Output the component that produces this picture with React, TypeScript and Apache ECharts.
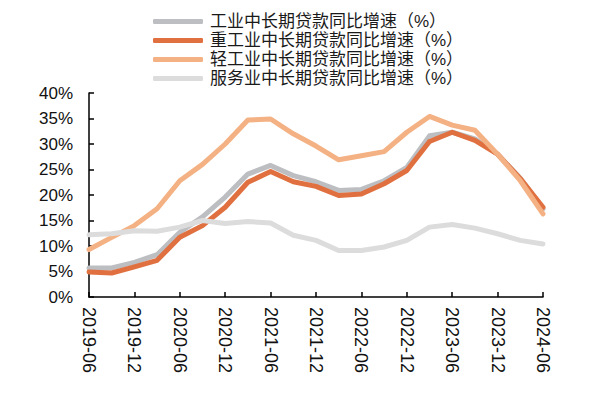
import React, { useEffect, useRef } from "react";
import * as echarts from "echarts";

const categories = [
  "2019-06", "2019-09", "2019-12", "2020-03", "2020-06", "2020-09", "2020-12",
  "2021-03", "2021-06", "2021-09", "2021-12", "2022-03", "2022-06", "2022-09",
  "2022-12", "2023-03", "2023-06", "2023-09", "2023-12", "2024-03", "2024-06",
];

const industry = [5.7, 5.7, 6.8, 8.3, 12.7, 15.7, 19.6, 24.1, 25.8, 23.8, 22.6, 20.9, 21.1, 22.8, 25.4, 31.6, 32.3, 31.0, 28.0, 23.3, 17.3];
const heavy = [4.9, 4.7, 5.9, 7.2, 11.7, 14.0, 17.6, 22.5, 24.6, 22.6, 21.7, 19.9, 20.2, 22.2, 24.8, 30.5, 32.3, 30.7, 28.0, 23.2, 17.6];
const light = [9.3, 11.7, 14.0, 17.3, 22.8, 26.0, 30.0, 34.7, 34.9, 32.0, 29.6, 26.9, 27.7, 28.5, 32.3, 35.4, 33.7, 32.7, 28.0, 22.8, 16.3];
const service = [12.2, 12.4, 13.0, 12.9, 13.7, 15.0, 14.4, 14.8, 14.5, 12.1, 11.1, 9.1, 9.1, 9.8, 11.1, 13.7, 14.2, 13.5, 12.4, 11.1, 10.4];

const names = [
  "工业中长期贷款同比增速（%）",
  "重工业中长期贷款同比增速（%）",
  "轻工业中长期贷款同比增速（%）",
  "服务业中长期贷款同比增速（%）",
];
const colors = ["#BCBEC1", "#E0703F", "#F4B183", "#DCDCDC"];

export default function App() {
  const ref = useRef<HTMLDivElement>(null);
  useEffect(() => {
    if (!ref.current) return;
    const chart = echarts.init(ref.current, undefined, { renderer: "svg" });
    const datasets = [industry, heavy, light, service];
    const order = [3, 0, 1, 2];
    chart.setOption({
      animation: false,
      textStyle: { fontFamily: "'Liberation Sans', 'Noto Sans CJK SC', sans-serif" },
      legend: {
        orient: "vertical",
        left: 148,
        top: 8,
        icon: "roundRect",
        itemWidth: 50,
        itemHeight: 5,
        itemGap: 2,
        data: names,
        textStyle: {
          fontSize: 17,
          lineHeight: 17,
          color: "#1a1a1a",
          padding: [0, 0, 0, 2],
          fontFamily: "'Liberation Sans', 'Noto Sans CJK SC', sans-serif",
        },
      },
      grid: { left: 89, right: 57, top: 93, bottom: 101, containLabel: false },
      xAxis: {
        type: "category",
        data: categories,
        boundaryGap: false,
        axisLine: { lineStyle: { color: "#000", width: 1.5 } },
        axisTick: { inside: true, length: 5, interval: 1, lineStyle: { color: "#000", width: 1.5 } },
        axisLabel: {
          interval: 1,
          rotate: -90,
          fontSize: 18,
          color: "#111",
          margin: 10,
        },
      },
      yAxis: {
        type: "value",
        min: 0,
        max: 40,
        interval: 5,
        splitLine: { show: false },
        axisLine: { show: true, lineStyle: { color: "#000", width: 1.5 } },
        axisTick: { show: true, inside: true, length: 5, lineStyle: { color: "#000", width: 1.5 } },
        axisLabel: { formatter: "{value}%", fontSize: 17, color: "#111", margin: 16 },
      },
      series: order.map((k) => ({
        name: names[k],
        type: "line",
        data: datasets[k],
        symbol: "none",
        showSymbol: false,
        color: colors[k],
        z: 2 + k,
        lineStyle: { width: 5, color: colors[k], cap: "round", join: "round" },
      })),
    });
    return () => chart.dispose();
  }, []);
  return (
    <div
      ref={ref}
      style={{ width: 600, height: 398, position: "fixed", left: 0, top: 0, background: "#fff" }}
    />
  );
}
